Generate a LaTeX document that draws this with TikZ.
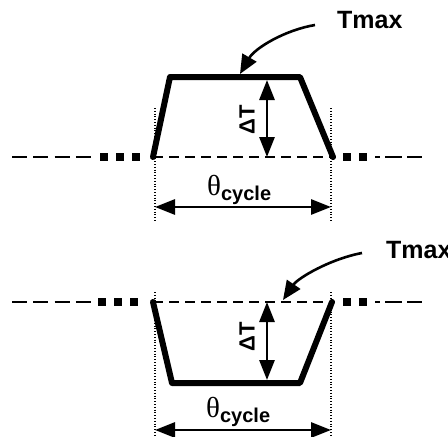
\documentclass[tikz,border=0pt]{standalone}
\usepackage{fontspec}
\setmainfont{Liberation Sans}
\newfontfamily\grk{Liberation Serif}
\usetikzlibrary{arrows.meta}
\begin{document}
\begin{tikzpicture}[x=1pt,y=-1pt,
  prof/.style={line width=6pt,line join=round,line cap=round},
  guide/.style={line width=1.2pt,dash pattern=on 1pt off 1.8pt},
  dimarrow/.style={line width=2.8pt,{Triangle[length=20pt,width=15pt]}-{Triangle[length=20pt,width=15pt]}},
  callout/.style={line width=2.6pt,-{Triangle[length=19pt,width=16pt]}},
  farline/.style={line width=2.7pt,dash pattern=on 15pt off 6.3pt},
  squares/.style={line width=7.5pt,dash pattern=on 7.5pt off 8.5pt},
  inline/.style={line width=1.6pt,dash pattern=on 10pt off 6pt},
  lbl/.style={font=\fontsize{25}{25}\selectfont\bfseries,inner sep=0pt},
  dlbl/.style={font=\fontsize{22}{22}\selectfont\bfseries,inner sep=0pt,rotate=90},
  thlbl/.style={inner sep=0pt,anchor=base west}
]
\useasboundingbox (0,0) rectangle (448,437);
\clip (0,0) rectangle (448,437);
% ---------- top diagram ----------
\coordinate (a1) at (153,157);
\coordinate (a2) at (170,77);
\coordinate (a3) at (300,77);
\coordinate (a4) at (333,157);
\draw[farline] (12,157) -- (93,157);
\draw[squares] (100,157) -- (146,157);
\draw[inline] (a1) -- (a4);
\draw[squares] (343,157) -- (368,157);
\draw[line width=2.7pt] (375,157) -- (380,157) (385,157) -- (402,157) (407,157) -- (422,157);
\draw[prof] (a1) -- (a2) -- (a3) -- (a4);
\coordinate (gl1) at (155,108);
\coordinate (gl2) at (155,222);
\coordinate (gr1) at (331,108);
\coordinate (gr2) at (331,222);
\draw[guide] (gl1) -- (gl2);
\draw[guide] (gr1) -- (gr2);
\coordinate (dt1) at (267,80);
\coordinate (db1) at (267,157);
\draw[dimarrow] (dt1) -- (db1);
\node[dlbl] (dT1) at (247,120) {ΔT};
\coordinate (cl1) at (155,207);
\coordinate (cr1) at (331,207);
\draw[dimarrow] (cl1) -- (cr1);
\node[thlbl] (th1) at (207,195) {{\grk\fontsize{29}{29}\selectfont θ}{\fontsize{20}{20}\selectfont\bfseries\raisebox{-5pt}{cycle}}};
\node[lbl,anchor=base west] (tm1) at (337,28) {Tmax};
\coordinate (ts1) at (315,25);
\coordinate (te1) at (240,74);
\draw[callout] (ts1) .. controls (285,30) and (255,48) .. (te1);
% ---------- bottom diagram ----------
\coordinate (b1) at (153,302);
\coordinate (b2) at (172,383);
\coordinate (b3) at (300,383);
\coordinate (b4) at (332,302);
\draw[farline] (12,302) -- (93,302);
\draw[squares] (98,302) -- (144,302);
\draw[inline] (b1) -- (b4);
\draw[squares] (343,302) -- (368,302);
\draw[line width=2.7pt] (375,302) -- (380,302) (385,302) -- (402,302) (407,302) -- (422,302);
\draw[prof] (b1) -- (b2) -- (b3) -- (b4);
\coordinate (hl1) at (155,292);
\coordinate (hl2) at (155,437);
\coordinate (hr1) at (331,292);
\coordinate (hr2) at (331,437);
\draw[guide] (hl1) -- (hl2);
\draw[guide] (hr1) -- (hr2);
\coordinate (dt2) at (267,302);
\coordinate (db2) at (267,380);
\draw[dimarrow] (dt2) -- (db2);
\node[dlbl] (dT2) at (247,337) {ΔT};
\coordinate (cl2) at (155,430);
\coordinate (cr2) at (331,430);
\draw[dimarrow] (cl2) -- (cr2);
\node[thlbl] (th2) at (206,417) {{\grk\fontsize{29}{29}\selectfont θ}{\fontsize{20}{20}\selectfont\bfseries\raisebox{-5pt}{cycle}}};
\node[lbl,anchor=base west] (tm2) at (386,258) {Tmax};
\coordinate (ts2) at (362,253);
\coordinate (te2) at (283,300);
\draw[callout] (ts2) .. controls (330,259) and (298,278) .. (te2);
\end{tikzpicture}
\end{document}
